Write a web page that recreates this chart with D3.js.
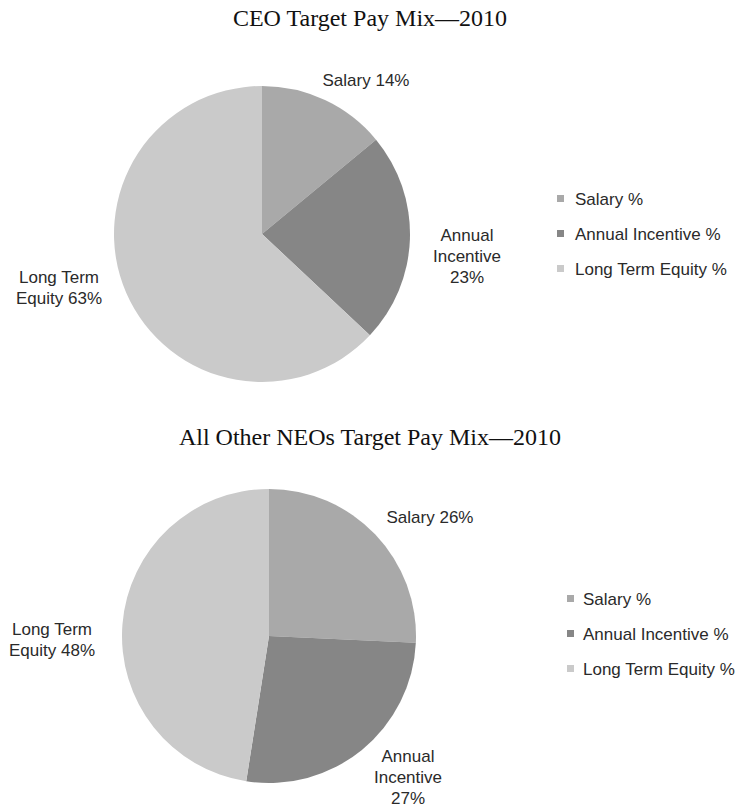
<!DOCTYPE html>
<html>
<head>
<meta charset="utf-8">
<script src="https://cdn.jsdelivr.net/npm/d3@7"></script>
<style>
  body { margin: 0; background: #fff; }
  svg { display: block; }
  .title { font-family: "Liberation Serif", "Times New Roman", serif; font-size: 24px; fill: #111; }
  .lbl { font-family: "Liberation Sans", Arial, sans-serif; font-size: 17px; fill: #2a2a2a; }
</style>
</head>
<body>
<div id="chart"></div>
<script>
// Data
const categories = ["Salary %", "Annual Incentive %", "Long Term Equity %"];
const ceoValues = [14, 23, 63];
const neoValues = [26, 27, 48];
const titles = ["CEO Target Pay Mix\u20142010", "All Other NEOs Target Pay Mix\u20142010"];
const ceoLabels = [["Salary 14%"], ["Annual", "Incentive", "23%"], ["Long Term", "Equity 63%"]];
const neoLabels = [["Salary 26%"], ["Annual", "Incentive", "27%"], ["Long Term", "Equity 48%"]];

const width = 740, height = 808;
const colors = d3.scaleOrdinal()
    .domain(categories)
    .range(["#a9a9a9", "#868686", "#cacaca"]);

const svg = d3.select("#chart").append("svg")
    .attr("width", width)
    .attr("height", height);

const pie = d3.pie().sort(null).value(d => d);

// layout for each panel
const panels = [
    {
        title: titles[0], titleY: 26, values: ceoValues, labels: ceoLabels,
        cx: 262, cy: 234, r: 148,
        labelPos: [[366, 86], [467, 241], [59, 283]],
        legendX: 557, legendY: 205, textX: 575
    },
    {
        title: titles[1], titleY: 445, values: neoValues, labels: neoLabels,
        cx: 269, cy: 636, r: 147,
        labelPos: [[430, 523], [408, 762], [52, 635]],
        legendX: 567, legendY: 605, textX: 583
    }
];

const lineH = 21;
const legendStep = 35;

panels.forEach(p => {
    svg.append("text")
        .attr("class", "title")
        .attr("x", width / 2)
        .attr("y", p.titleY)
        .attr("text-anchor", "middle")
        .text(p.title);

    const arc = d3.arc().innerRadius(0).outerRadius(p.r);
    const g = svg.append("g").attr("transform", `translate(${p.cx},${p.cy})`);

    g.selectAll("path")
        .data(pie(p.values))
        .join("path")
        .attr("d", arc)
        .attr("fill", (d, i) => colors(categories[i]));

    // slice labels
    p.labels.forEach((lines, i) => {
        const t = svg.append("text")
            .attr("class", "lbl")
            .attr("text-anchor", "middle");
        lines.forEach((s, j) => {
            t.append("tspan")
                .attr("x", p.labelPos[i][0])
                .attr("y", p.labelPos[i][1] + j * lineH)
                .text(s);
        });
    });

    // legend
    const leg = svg.append("g");
    categories.forEach((c, i) => {
        const y = p.legendY + i * legendStep;
        leg.append("rect")
            .attr("x", p.legendX)
            .attr("y", y - 10)
            .attr("width", 7)
            .attr("height", 7)
            .attr("fill", colors(c));
        leg.append("text")
            .attr("class", "lbl")
            .attr("x", p.textX)
            .attr("y", y)
            .text(c);
    });
});
</script>
</body>
</html>
